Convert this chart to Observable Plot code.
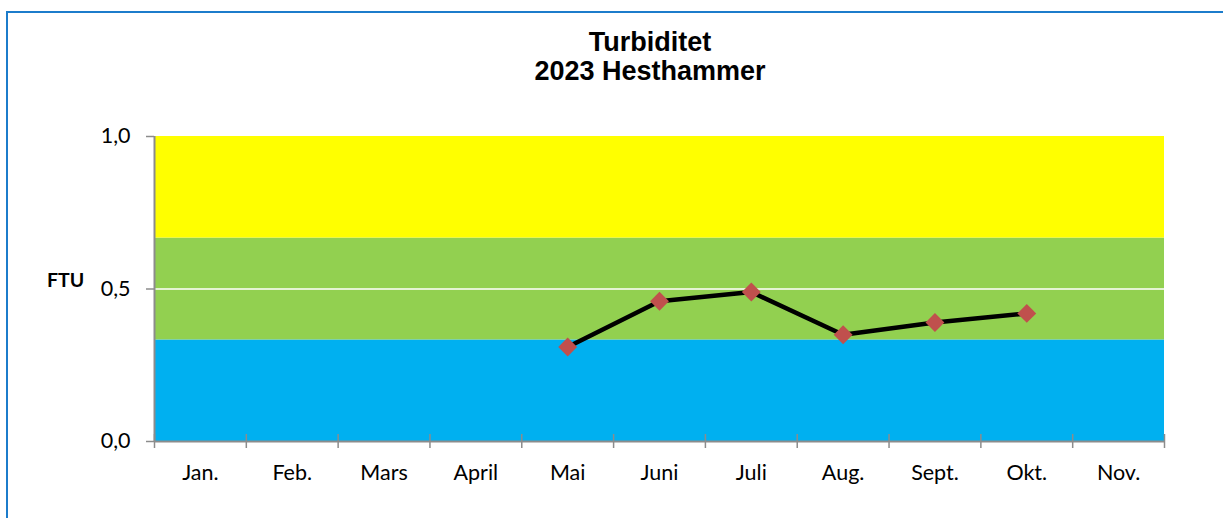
<!DOCTYPE html>
<html>
<head>
<meta charset="utf-8">
<script src="https://cdn.jsdelivr.net/npm/d3@7"></script>
<script src="https://cdn.jsdelivr.net/npm/@observablehq/plot@0.6"></script>
<style>
  html, body { margin: 0; padding: 0; background: #fff; }
  #wrap { position: relative; width: 1223px; height: 518px; overflow: hidden; }
  #frame { position: absolute; left: 6px; top: 11px; width: 1300px; height: 600px;
           border-top: 2px solid #1C7CCB; border-left: 2px solid #1C7CCB; box-sizing: border-box; }
  #title { position: absolute; left: 0; width: 1300px; top: 28px; text-align: center;
           font-family: "Liberation Sans", Arial, sans-serif; font-weight: bold; font-size: 27px;
           line-height: 29px; color: #000; }
  #title div { width: 1300px; }
  #ylab { position: absolute; left: 47px; top: 268px; font-family: Lato, sans-serif; font-weight: bold;
          font-size: 19.5px; color: #000; }
  #chart { position: absolute; left: 0; top: 0; }
</style>
</head>
<body>
<div id="wrap">
  <div id="frame"></div>
  <div id="chart"></div>
  <div id="title"></div>
  <div id="ylab"></div>
</div>
<script>
const titleLines = ["Turbiditet", "2023 Hesthammer"];
const yLabel = "FTU";
const months = ["Jan.", "Feb.", "Mars", "April", "Mai", "Juni", "Juli", "Aug.", "Sept.", "Okt.", "Nov."];
const measuredMonths = ["Mai", "Juni", "Juli", "Aug.", "Sept.", "Okt."];
const turbidity = [0.31, 0.46, 0.49, 0.35, 0.39, 0.42];
const yTicks = [0, 0.5, 1];
const bandLows = [0, 0.333, 0.667];
const bandHighs = [0.333, 0.667, 1];
const bandColors = ["#00B0F0", "#92D050", "#FFFF00"];
const gridValues = [0.5];

const W = 1223, H = 518;
const mL = 154, mR = 59, mT = 136, mB = 77;

const idx = m => months.indexOf(m) + 1;
const series = measuredMonths.map((m, i) => ({x: idx(m), y: turbidity[i]}));
const bands = bandLows.map((lo, i) => ({lo, hi: bandHighs[i], color: bandColors[i]}));
const boundaries = d3.range(0, months.length + 1).map(i => i + 0.5);
const centers = months.map((m, i) => i + 1);

const font = "Lato, sans-serif";
const axisGray = "#8C8C8C";

const chart = Plot.plot({
  width: W, height: H,
  marginLeft: mL, marginRight: mR, marginTop: mT, marginBottom: mB,
  style: {fontFamily: font, fontSize: "21.5px", color: "#000", background: "transparent"},
  x: {type: "linear", domain: [0.5, months.length + 0.5]},
  y: {type: "linear", domain: [0, 1]},
  marks: [
    Plot.rect(bands, {y1: "lo", y2: "hi", fill: "color"}),
    Plot.ruleY(gridValues, {stroke: "#fff", strokeWidth: 1.6}),
    Plot.ruleX([boundaries[0]], {stroke: axisGray, strokeWidth: 2}),
    Plot.ruleY([0], {stroke: axisGray, strokeWidth: 2}),
    Plot.axisY({ticks: yTicks, tickSize: 8, tickPadding: 16, stroke: axisGray, strokeWidth: 1.5,
      tickFormat: d => d.toFixed(1).replace(".", ","), label: null, fill: "#000", fontSize: 21.5}),
    Plot.axisX({ticks: boundaries, tickSize: 14, dy: -7, tickFormat: () => "", stroke: axisGray, strokeWidth: 1.5, label: null}),
    Plot.axisX({ticks: centers, tickSize: 0, tickPadding: 23, tickFormat: d => months[d - 1], label: null, fill: "#000", fontSize: 21.5}),
    Plot.line(series, {x: "x", y: "y", stroke: "#000", strokeWidth: 4.5}),
    Plot.dot(series, {x: "x", y: "y", symbol: "diamond2", r: 8.5, fill: "#C0504D", stroke: "none"})
  ]
});
document.getElementById("chart").appendChild(chart);
const t = document.getElementById("title");
titleLines.forEach(s => { const d = document.createElement("div"); d.textContent = s; t.appendChild(d); });
document.getElementById("ylab").textContent = yLabel;
</script>
</body>
</html>
